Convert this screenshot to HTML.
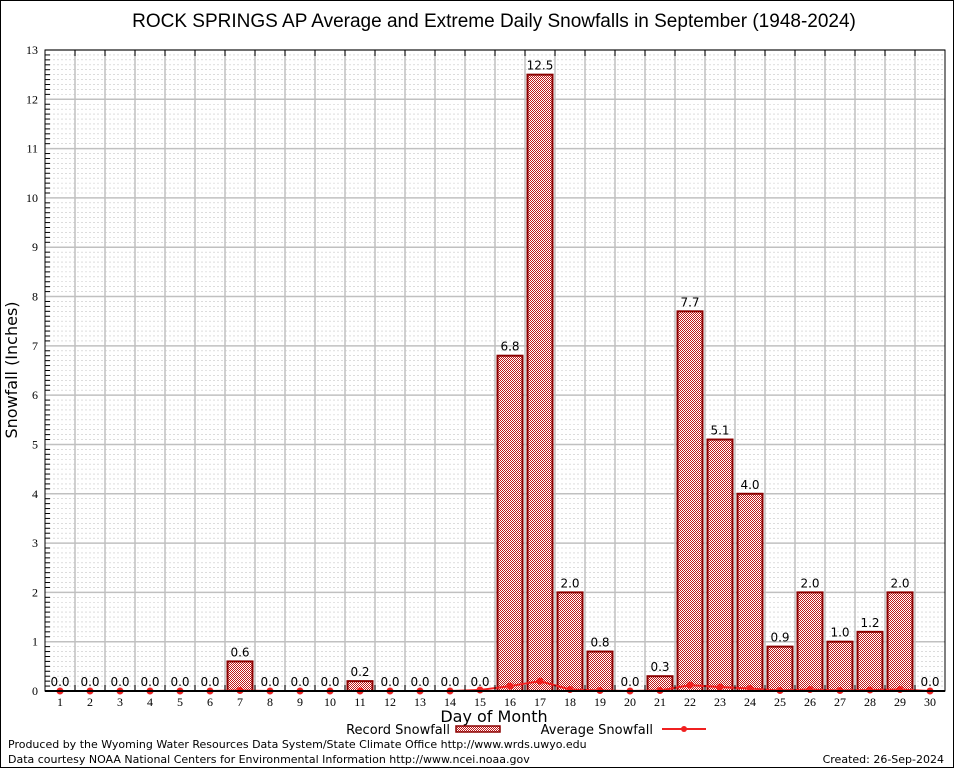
<!DOCTYPE html>
<html><head><meta charset="utf-8"><style>
body{margin:0;background:#fff;}
svg{display:block;font-family:"DejaVu Sans","Liberation Sans",sans-serif;}
</style></head><body>
<svg id="c" width="954" height="768">
<defs>
<pattern id="hatch" width="2" height="2" patternUnits="userSpaceOnUse">
<rect width="2" height="2" fill="#fff"/>
<rect width="1" height="1" fill="#c01818"/>
<rect x="1" y="1" width="1" height="1" fill="#c01818"/>
</pattern>
</defs>
<rect x="0.5" y="0.5" width="953" height="767" fill="#fff" stroke="#000"/>
<text x="494" y="27" font-size="19" text-anchor="middle" font-family="Liberation Sans, sans-serif">ROCK SPRINGS AP Average and Extreme Daily Snowfalls in September (1948-2024)</text>
<g id="grid"></g>
<g id="bars"></g>
<g id="avg"></g>
<g id="axes"></g>
<text x="17" y="370" font-size="16" text-anchor="middle" transform="rotate(-90 17 370)">Snowfall (Inches)</text>
<text x="494" y="722" font-size="16" text-anchor="middle">Day of Month</text>
<g>
<text x="450" y="734" font-size="13" text-anchor="end">Record Snowfall</text>
<rect x="456" y="726" width="44" height="6" fill="url(#hatch)" stroke="#8b0000" stroke-width="1.5"/>
</g>
<g>
<text x="653" y="734" font-size="13" text-anchor="end">Average Snowfall</text>
<line x1="662" y1="729" x2="706" y2="729" stroke="#f02020" stroke-width="2"/>
<circle cx="684" cy="729" r="3" fill="#f02020"/>
</g>
<text x="8" y="748" font-size="11">Produced by the Wyoming Water Resources Data System/State Climate Office http://www.wrds.uwyo.edu</text>
<text x="8" y="763" font-size="11">Data courtesy NOAA National Centers for Environmental Information http://www.ncei.noaa.gov</text>
<text x="944" y="763" font-size="11" text-anchor="end">Created: 26-Sep-2024</text>
</svg>
<script>
const days=[1,2,3,4,5,6,7,8,9,10,11,12,13,14,15,16,17,18,19,20,21,22,23,24,25,26,27,28,29,30];
const records=[0,0,0,0,0,0,0.6,0,0,0,0.2,0,0,0,0,6.8,12.5,2.0,0.8,0,0.3,7.7,5.1,4.0,0.9,2.0,1.0,1.2,2.0,0];
const averages=[0,0,0,0,0,0,0.01,0,0,0,0,0,0,0,0.02,0.1,0.2,0.03,0.01,0,0.01,0.12,0.08,0.05,0.01,0.03,0.01,0.02,0.03,0];
const yTicks=[0,1,2,3,4,5,6,7,8,9,10,11,12,13];
const L=45,R=945,T=50,B=691,YMAX=13;
const x=d=>L+(R-L)/days.length*(d-0.5);
const y=v=>B-(B-T)*v/YMAX;
const NS="http://www.w3.org/2000/svg";
function mk(p,t,a){const e=document.createElementNS(NS,t);for(const k in a)e.setAttribute(k,a[k]);p.appendChild(e);return e;}
const g=document.getElementById('grid'),bg=document.getElementById('bars'),ag=document.getElementById('avg'),ax=document.getElementById('axes');
for(let v=0;v<=YMAX*10;v++){
 if(v%10===0)continue;
 const l=mk(g,'line',{x1:L,x2:R,y1:y(v/10),y2:y(v/10),stroke:'#c8c8c8','stroke-width':0.6,'stroke-dasharray':'2,2'});
 
 
}
yTicks.forEach(t=>{
 const l=mk(g,'line',{x1:L,x2:R,y1:y(t),y2:y(t),stroke:'#c0c0c0','stroke-width':1.5});
 
 
 const tx=mk(ax,'text',{x:L-7,y:y(t)+4,'font-size':12,'text-anchor':'end','font-family':'Liberation Serif, serif'});
 tx.textContent=t;
 
 
 for(let m=1;m<10&&t<YMAX;m++){const k=mk(ax,'line',{x1:L,x2:L+5,y1:y(t+m/10),y2:y(t+m/10),stroke:'#000'});}
});
for(let i=1;i<days.length;i++){
 const xv=L+(R-L)/days.length*i;
 const l=mk(g,'line',{x1:xv,x2:xv,y1:T,y2:B,stroke:'#c0c0c0','stroke-width':1.5});
 
 
 const k=mk(ax,'line',{x1:xv,x2:xv,y1:T,y2:T+6,stroke:'#000'});
 const k2=mk(ax,'line',{x1:xv,x2:xv,y1:B,y2:B-6,stroke:'#000'});
}
days.forEach((d,i)=>{
 const v=records[i];
 if(v>0){
  const r=mk(bg,'rect',{x:x(d)-12.5,y:y(v),width:25,height:B-y(v),fill:'url(#hatch)',stroke:'#8b0000','stroke-width':2});
  
  
 }
 const t=mk(bg,'text',{x:x(d),y:y(v)-5,'font-size':12,'text-anchor':'middle'});
 t.textContent=v.toFixed(1);
 
 
 const xl=mk(ax,'text',{x:x(d),y:B+15,'font-size':12,'text-anchor':'middle','font-family':'Liberation Serif, serif'});
 xl.textContent=d;
 
 
});
const pl=mk(ag,'polyline',{points:days.map((d,i)=>x(d)+','+y(averages[i])).join(' '),fill:'none',stroke:'#f02020','stroke-width':2});


days.forEach((d,i)=>{
 const c=mk(ag,'circle',{cx:x(d),cy:y(averages[i]),r:3.5,fill:'#f02020'});
 
 
});
const fr=mk(ax,'rect',{x:L,y:T,width:R-L,height:B-T,fill:'none',stroke:'#000','stroke-width':1});


const bl=mk(ax,'line',{x1:L,x2:R,y1:B,y2:B,stroke:'#000','stroke-width':2});


</script>
</body></html>
